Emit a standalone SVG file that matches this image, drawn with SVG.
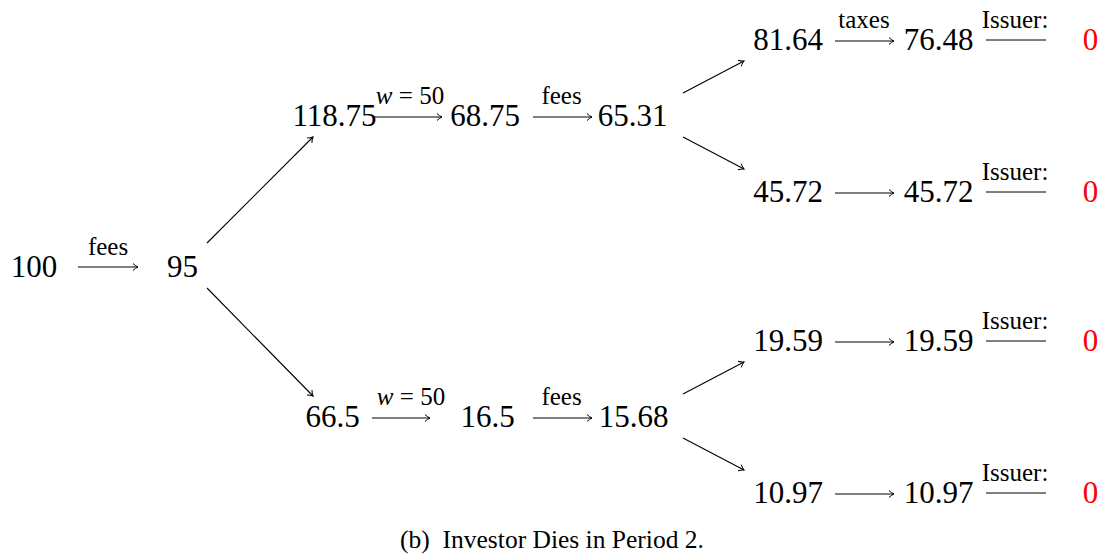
<svg xmlns="http://www.w3.org/2000/svg" width="1108" height="560" viewBox="0 0 1108 560">
<defs>
<marker id="ah" markerWidth="10" markerHeight="10" refX="7" refY="5" orient="auto" markerUnits="userSpaceOnUse">
<path d="M2,1.5 Q4.5,4 7,5 Q4.5,6 2,8.5" fill="none" stroke="#000" stroke-width="1"/>
</marker>
</defs>
<style>
text{font-family:"Liberation Serif","Times New Roman",serif;fill:#000}
.n{font-size:31px;text-anchor:middle}
.l{font-size:25px;text-anchor:middle}
.z{font-size:31px;text-anchor:middle;fill:#ff0000}
.cap{font-size:25.5px;text-anchor:middle}
.a{stroke:#000;stroke-width:1;fill:none;marker-end:url(#ah)}
.d{stroke:#000;stroke-width:1.1;fill:none;marker-end:url(#ah)}
.i{stroke:#000;stroke-width:1;fill:none}
</style>
<rect width="1108" height="560" fill="#fff"/>
<g id="connectors">
<line class="a" x1="78" y1="267" x2="138" y2="267"/>
<line class="d" x1="207" y1="243" x2="313" y2="137"/>
<line class="d" x1="207" y1="288" x2="313" y2="396"/>
<line class="a" x1="374" y1="117" x2="442" y2="117"/>
<line class="a" x1="533" y1="117" x2="592" y2="117"/>
<line class="a" x1="372" y1="418" x2="430" y2="418"/>
<line class="a" x1="533" y1="418" x2="592" y2="418"/>
<line class="d" x1="683" y1="93" x2="744" y2="61"/>
<line class="d" x1="683" y1="137" x2="744" y2="169"/>
<line class="d" x1="683" y1="394" x2="744" y2="362"/>
<line class="d" x1="683" y1="438" x2="744" y2="470"/>
<line class="a" x1="835" y1="41" x2="894" y2="41"/>
<line class="a" x1="835" y1="193" x2="894" y2="193"/>
<line class="a" x1="835" y1="342" x2="894" y2="342"/>
<line class="a" x1="835" y1="494" x2="894" y2="494"/>
<line class="i" x1="986" y1="40" x2="1046" y2="40"/>
<line class="i" x1="986" y1="192" x2="1046" y2="192"/>
<line class="i" x1="986" y1="341" x2="1046" y2="341"/>
<line class="i" x1="986" y1="493" x2="1046" y2="493"/>
</g>
<g id="labels">
<text class="l" x="410" y="104"><tspan font-style="italic">w</tspan> = 50</text>
<text class="l" x="108" y="255">fees</text>
<text class="l" x="561.5" y="104">fees</text>
<text class="l" x="411" y="405"><tspan font-style="italic">w</tspan> = 50</text>
<text class="l" x="561.5" y="405">fees</text>
<text class="l" x="864" y="28">taxes</text>
<text class="l" x="1015" y="28">Issuer:</text>
<text class="l" x="1015" y="180">Issuer:</text>
<text class="l" x="1015" y="329">Issuer:</text>
<text class="l" x="1015" y="481">Issuer:</text>
</g>
<g id="n100"><text class="n" x="34" y="277">100</text></g>
<g id="n95"><text class="n" x="182.5" y="277">95</text></g>
<g id="n118"><text class="n" x="334.5" y="126">118.75</text></g>
<g id="n68"><text class="n" x="485" y="126">68.75</text></g>
<g id="n65"><text class="n" x="632.5" y="126">65.31</text></g>
<g id="n66"><text class="n" x="332.5" y="427">66.5</text></g>
<g id="n16"><text class="n" x="487.5" y="427">16.5</text></g>
<g id="n15"><text class="n" x="633.5" y="427">15.68</text></g>
<g id="n81"><text class="n" x="788" y="50">81.64</text></g>
<g id="n76"><text class="n" x="938.5" y="50">76.48</text></g>
<g id="z1"><text class="z" x="1090.5" y="50">0</text></g>
<g id="n45a"><text class="n" x="788" y="202">45.72</text></g>
<g id="n45b"><text class="n" x="938.5" y="202">45.72</text></g>
<g id="z2"><text class="z" x="1090.5" y="202">0</text></g>
<g id="n19a"><text class="n" x="788" y="351">19.59</text></g>
<g id="n19b"><text class="n" x="938.5" y="351">19.59</text></g>
<g id="z3"><text class="z" x="1090.5" y="351">0</text></g>
<g id="n10a"><text class="n" x="788" y="503">10.97</text></g>
<g id="n10b"><text class="n" x="938.5" y="503">10.97</text></g>
<g id="z4"><text class="z" x="1090.5" y="503">0</text></g>
<g id="caption"><text class="cap" x="552" y="548">(b)&#160; Investor Dies in Period 2.</text></g>
</svg>
